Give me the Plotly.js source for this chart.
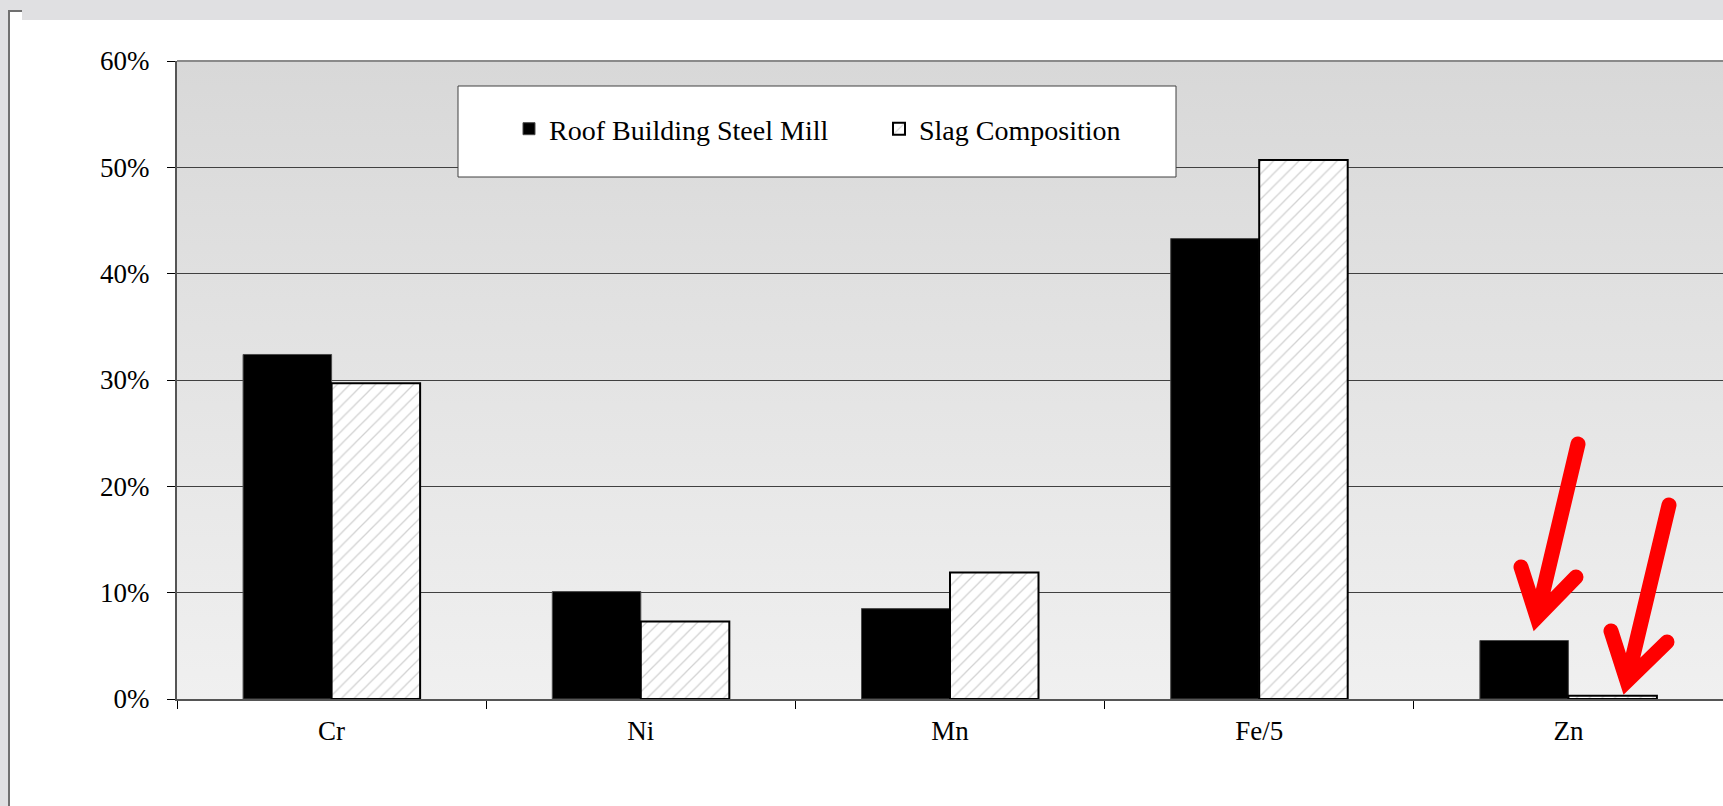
<!DOCTYPE html>
<html>
<head>
<meta charset="utf-8">
<script src="https://cdn.plot.ly/plotly-3.0.1.min.js"></script>
<style>
  html, body { margin: 0; padding: 0; overflow: hidden; background: #ffffff; }
  #chart { position: absolute; left: 0; top: 0; width: 1723px; height: 806px; }
  .frame { position: absolute; z-index: 5; }
</style>
</head>
<body>
<div id="chart"></div>
<div class="frame" style="left:22px;top:0;width:1701px;height:20px;background:#e0e0e2;"></div>
<div class="frame" style="left:0;top:0;width:22px;height:10px;background:#e0e0e2;"></div>
<div class="frame" style="left:0;top:0;width:8px;height:806px;background:#e0e0e2;"></div>
<div class="frame" style="left:8px;top:10px;width:2px;height:796px;background:#707070;"></div>
<div class="frame" style="left:8px;top:10px;width:14px;height:2px;background:#707070;"></div>
<script>
// ---- data ----
const categories = ["Cr", "Ni", "Mn", "Fe/5", "Zn"];
const roofMill = [0.324, 0.101, 0.085, 0.433, 0.055];
const slagComposition = [0.297, 0.073, 0.119, 0.507, 0.003];
const seriesNames = ["Roof Building Steel Mill", "Slag Composition"];
const yTickValues = [0, 0.1, 0.2, 0.3, 0.4, 0.5, 0.6];

// ---- layout helpers (pixel -> paper) ----
const W = 1723, H = 806;
const mL = 177, mR = 0, mT = 61, mB = 107;
const pw = W - mL - mR, ph = H - mT - mB;
const px = X => (X - mL) / pw;
const py = Y => (H - mB - Y) / ph;

const FONT = "Liberation Serif, Times New Roman, serif";

const traces = [
  {
    type: "bar", name: seriesNames[0], x: categories, y: roofMill,
    marker: { color: "#000000", line: { color: "#4a4a4a", width: 1 } },
    hoverinfo: "skip"
  },
  {
    type: "bar", name: seriesNames[1], x: categories, y: slagComposition,
    marker: {
      color: "#ffffff",
      line: { color: "#000000", width: 2 },
      pattern: { shape: "/", fgcolor: "#d2d2d2", bgcolor: "#ffffff", size: 9, solidity: 0.14 }
    },
    hoverinfo: "skip"
  }
];

const gradSvg = "<svg xmlns='http://www.w3.org/2000/svg' width='100' height='100' preserveAspectRatio='none'>" +
  "<defs><linearGradient id='g' x1='0' y1='0' x2='0' y2='1'>" +
  "<stop offset='0' stop-color='#d8d8d8'/><stop offset='1' stop-color='#f0f0f0'/>" +
  "</linearGradient></defs><rect width='100' height='100' fill='url(#g)'/></svg>";

function arrowPath(tail, vertex, wl, wr) {
  const p = a => px(a[0]).toFixed(5) + "," + py(a[1]).toFixed(5);
  return "M" + p(wl) + " L" + p(vertex) + " L" + p(wr) + " M" + p(tail) + " L" + p(vertex);
}

const layout = {
  width: W, height: H,
  margin: { l: mL, r: mR, t: mT, b: mB, pad: 0 },
  paper_bgcolor: "#ffffff",
  plot_bgcolor: "rgba(0,0,0,0)",
  font: { family: FONT, size: 27, color: "#000000" },
  barmode: "group",
  bargap: 0.4275,
  bargroupgap: 0,
  showlegend: true,
  legend: {
    orientation: "h",
    x: px(509), xanchor: "left",
    y: py(129), yanchor: "middle",
    bgcolor: "rgba(0,0,0,0)", borderwidth: 0,
    font: { family: FONT, size: 28, color: "#000000" },
    entrywidth: 325, entrywidthmode: "pixels",
    traceorder: "normal"
  },
  xaxis: {
    type: "category",
    showline: true, linecolor: "#555555", linewidth: 2,
    ticks: "outside", tickson: "boundaries", ticklen: 8, tickcolor: "#000000", tickwidth: 1,
    showgrid: false, zeroline: false,
    ticklabelstandoff: 7,
    tickfont: { family: FONT, size: 27, color: "#000000" },
    fixedrange: true
  },
  yaxis: {
    range: [0, 0.6],
    tickvals: yTickValues,
    tickformat: ".0%",
    showline: true, linecolor: "#555555", linewidth: 2,
    ticks: "outside", ticklen: 8, tickcolor: "#000000", tickwidth: 1,
    showgrid: true, gridcolor: "#404040", gridwidth: 1,
    zeroline: false,
    ticklabelstandoff: 12,
    tickfont: { family: FONT, size: 27, color: "#000000" },
    fixedrange: true
  },
  images: [{
    source: "data:image/svg+xml;utf8," + encodeURIComponent(gradSvg),
    xref: "paper", yref: "paper", x: 0, y: 1, sizex: 1, sizey: 1,
    xanchor: "left", yanchor: "top", sizing: "stretch", layer: "below"
  }],
  shapes: [
    { type: "line", xref: "paper", yref: "paper", x0: 0, x1: 1, y0: 1, y1: 1,
      line: { color: "#8a8a8a", width: 2 }, layer: "above" },
    { type: "rect", xref: "paper", yref: "paper",
      x0: px(458), x1: px(1176), y0: py(177), y1: py(86),
      fillcolor: "#ffffff", line: { color: "#404040", width: 1 }, layer: "above" },
    { type: "path", xref: "paper", yref: "paper",
      path: arrowPath([1578, 444], [1537, 617], [1521, 567], [1576, 577]),
      line: { color: "#ff0000", width: 15 }, layer: "above" },
    { type: "path", xref: "paper", yref: "paper",
      path: arrowPath([1669, 505], [1627, 681], [1611, 631], [1667, 642]),
      line: { color: "#ff0000", width: 15 }, layer: "above" }
  ]
};

Plotly.newPlot("chart", traces, layout, { displayModeBar: false, staticPlot: true }).then(() => {
  document.querySelectorAll(".shapelayer path").forEach(el => {
    const s = el.style.stroke || el.getAttribute("stroke") || "";
    if (s.replace(/\s/g, "") === "rgb(255,0,0)" || s.toLowerCase() === "#ff0000") {
      el.style.strokeLinecap = "round";
      el.style.strokeLinejoin = "miter";
      el.style.strokeMiterlimit = "6";
    }
  });
});
</script>
</body>
</html>
